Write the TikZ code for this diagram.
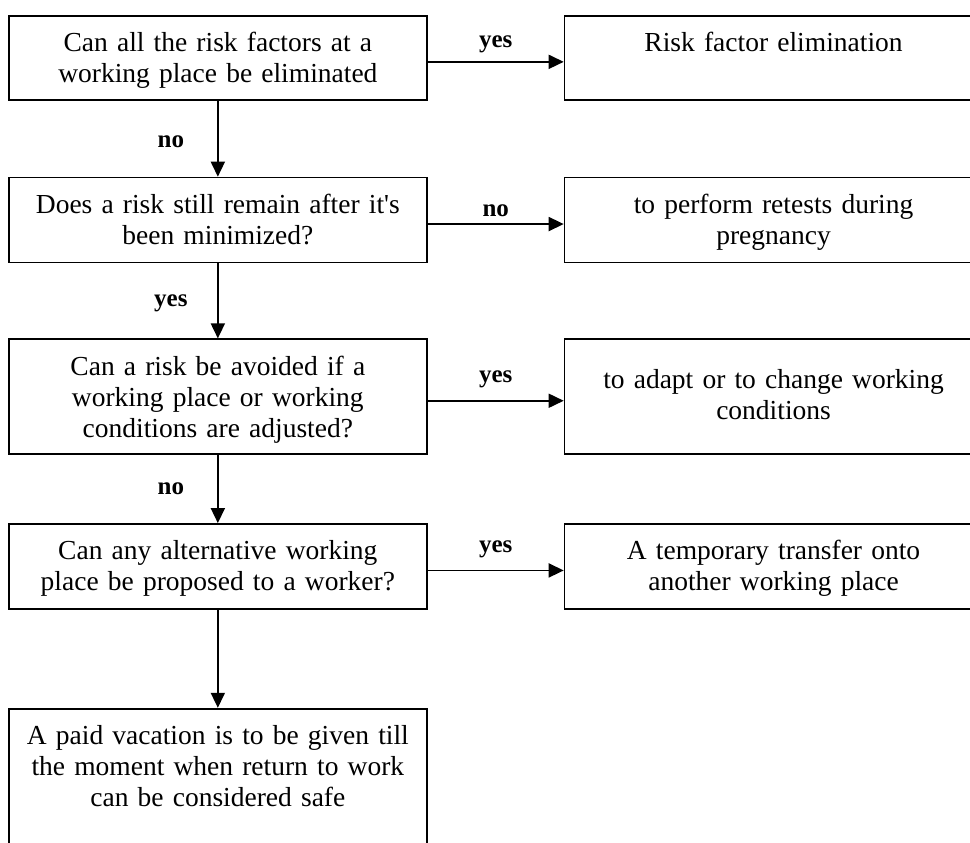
\documentclass[tikz,border=0pt]{standalone}
\usepackage{fontspec}
\setmainfont{Liberation Serif}
\usetikzlibrary{positioning,arrows.meta}
\tikzset{
  box/.style={rectangle, draw=black, line width=1.7pt, text width=418pt, align=center, inner sep=0pt, text height=36pt, font=\fontsize{27.5}{31}\selectfont},
  connect/.style={-{Triangle[length=15pt,width=14pt]}, line width=1.7pt},
  lbl/.style={inner sep=0pt, font=\fontsize{25}{30}\selectfont\bfseries}
}

\begin{document}
\begin{tikzpicture}
	  % Frame of the page, the boxes run past it on the right and at the bottom
	  \useasboundingbox (0,0) rectangle (970pt,-843pt);
	  \clip (0,0) rectangle (970pt,-843pt);

	  % Questions
	  \node[box, text depth=48pt, anchor=north west] (q1) at (8pt,-15pt) {Can all the risk factors at a\\working place be eliminated};
	  \node[box, text depth=49pt] (q2) [below=76pt of q1] {Does a risk still remain after it\textquotesingle s\\been minimized?};
	  \node[box, text depth=79pt] (q3) [below=75pt of q2] {Can a risk be avoided if a\\working place or working\\conditions are adjusted?};
	  \node[box, text depth=49pt] (q4) [below=68pt of q3] {Can any alternative working\\place be proposed to a worker?};
	  \node[box, text depth=164pt] (q5) [below=98pt of q4] {A paid vacation is to be given till\\the moment when return to work\\can be considered safe};

	  % Actions
	  \node[box, text depth=48pt] (a1) [right=136pt of q1] {Risk factor elimination};
	  \node[box, text depth=49pt] (a2) [right=136pt of q2] {to perform retests during\\pregnancy};
	  \node[box, text height=49pt, text depth=66pt] (a3) [right=136pt of q3] {to adapt or to change working\\conditions};
	  \node[box, text depth=49pt] (a4) [right=136pt of q4] {A temporary transfer onto\\another working place};

	  % Down the left column
	  \draw[connect] (q1) -- node[lbl, xshift=-47pt, yshift=-3pt] {no} (q2);
	  \draw[connect] (q2) -- node[lbl, xshift=-47pt, yshift=-2pt] {yes} (q3);
	  \draw[connect] (q3) -- node[lbl, xshift=-47pt] {no} (q4);
	  \draw[connect] (q4) -- (q5);

	  % Across to the actions
	  \draw[connect] ([yshift=-4pt]q1.east) -- node[lbl, above=8pt] {yes} ([yshift=-4pt]a1.west);
	  \draw[connect] ([yshift=-4pt]q2.east) -- node[lbl, above=6pt] {no} ([yshift=-4pt]a2.west);
	  \draw[connect] ([yshift=-4pt]q3.east) -- node[lbl, above=12pt] {yes} ([yshift=-4pt]a3.west);
	  \draw[connect] ([yshift=-4pt]q4.east) -- node[lbl, above=12pt] {yes} ([yshift=-4pt]a4.west);
\end{tikzpicture}
\end{document}
